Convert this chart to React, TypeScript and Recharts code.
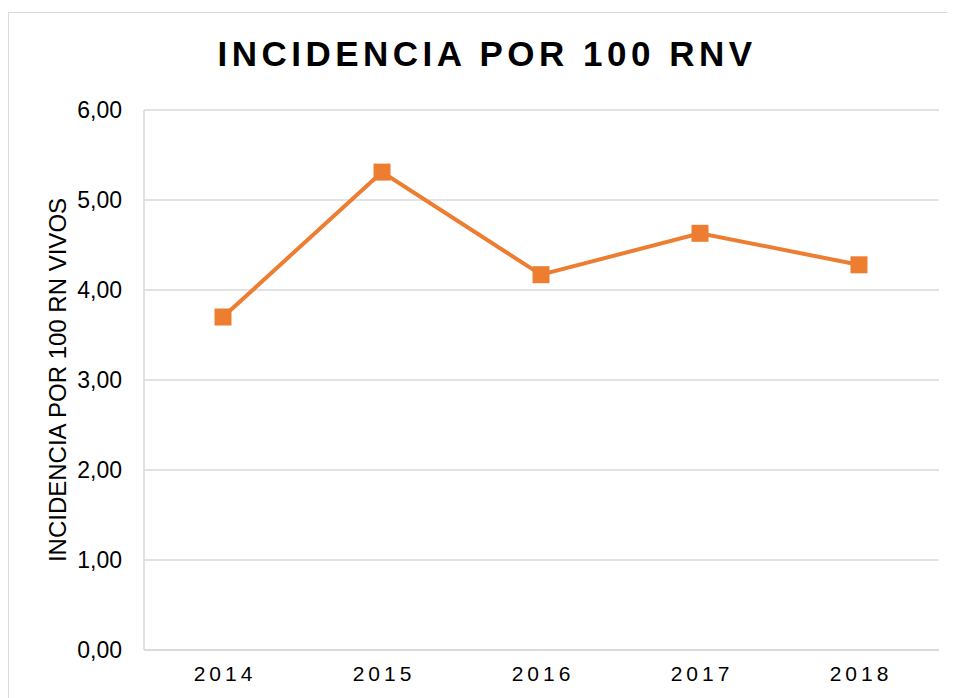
import * as React from "react";
import {
  LineChart,
  Line,
  XAxis,
  YAxis,
  CartesianGrid,
  Label,
} from "recharts";

const years = ["2014", "2015", "2016", "2017", "2018"];
const incidence = [3.7, 5.31, 4.17, 4.63, 4.28];
const yTicks = [0, 1, 2, 3, 4, 5, 6];

const ORANGE = "#ED7D31";
const GRID = "#d9d9d9";
const FONT = "'Liberation Sans', Arial, sans-serif";

const chartData = years.map((year, i) => ({ year, value: incidence[i] }));

function SquareDot(props: any) {
  const { cx, cy, index } = props;
  if (cx == null || cy == null) return null;
  const size = 17;
  return (
    <rect
      key={`dot-${index}`}
      x={cx - size / 2}
      y={cy - size / 2}
      width={size}
      height={size}
      fill={ORANGE}
    />
  );
}

export default function App() {
  return (
    <div
      style={{
        position: "relative",
        marginTop: 4,
        width: 946,
        height: 685,
        borderTop: `1px solid ${GRID}`,
        borderLeft: `1px solid ${GRID}`,
        fontFamily: FONT,
        overflow: "hidden",
      }}
    >
      <div
        style={{
          position: "absolute",
          left: 0,
          top: 21,
          width: 956,
          textAlign: "center",
          fontSize: 35,
          fontWeight: 700,
          letterSpacing: 4.5,
          color: "#000",
          lineHeight: "40px",
        }}
      >
        INCIDENCIA POR 100 RNV
      </div>
      <LineChart
        width={946}
        height={685}
        data={chartData}
        margin={{ top: 97, right: 16, bottom: 18, left: 0 }}
      >
        <CartesianGrid vertical={false} stroke={GRID} strokeWidth={1.5} />
        <XAxis
          dataKey="year"
          height={30}
          padding={{ left: 79, right: 80 }}
          axisLine={{ stroke: GRID, strokeWidth: 1.5 }}
          tickLine={false}
          tickSize={0}
          tickMargin={16}
          tick={{ fill: "#000", fontSize: 21, letterSpacing: 4, dx: 2, fontFamily: FONT }}
        />
        <YAxis
          width={135}
          domain={[0, 6]}
          ticks={yTicks}
          interval={0}
          axisLine={{ stroke: GRID, strokeWidth: 1.5 }}
          tickLine={false}
          tickSize={0}
          tickMargin={22}
          tickFormatter={(v: number) => v.toFixed(2).replace(".", ",")}
          tick={{ fill: "#000", fontSize: 23, fontFamily: FONT }}
        >
          <Label
            content={() => (
              <text
                x={48}
                y={367}
                transform="rotate(-90 48 367)"
                textAnchor="middle"
                dominantBaseline="central"
                fontSize={24}
                fontFamily={FONT}
                fill="#000"
              >
                INCIDENCIA POR 100 RN VIVOS
              </text>
            )}
          />
        </YAxis>
        <Line
          type="linear"
          dataKey="value"
          stroke={ORANGE}
          strokeWidth={4}
          dot={SquareDot}
          activeDot={false}
          isAnimationActive={false}
        />
      </LineChart>
    </div>
  );
}
